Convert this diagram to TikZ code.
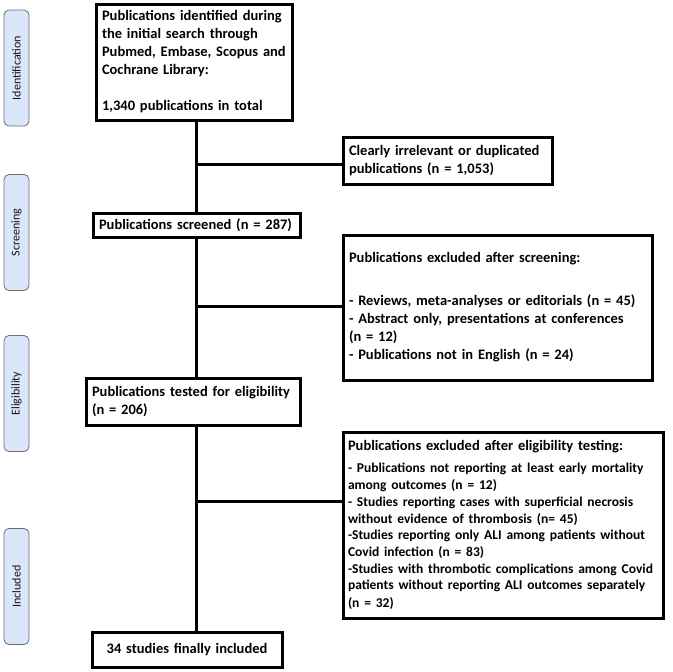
\documentclass[tikz,border=0pt]{standalone}
\usepackage{fontspec}
\setmainfont{Carlito}
\usetikzlibrary{positioning}
\definecolor{stagefill}{RGB}{218, 230, 250}
\definecolor{stageline}{RGB}{110, 110, 110}
\definecolor{stagetext}{RGB}{20, 20, 20}

\tikzset{
  flowbox/.style={draw, line width=3pt, outer sep=0pt, inner sep=6pt, anchor=north west,
    align=left, font=\bfseries\fontsize{14.5}{18}\selectfont},
  stagebox/.style={draw=stageline, fill=stagefill, rounded corners=5pt, line width=0.8pt,
    minimum width=116pt, minimum height=25pt, inner sep=0pt, rotate=90, text=stagetext,
    font=\fontsize{12}{14}\selectfont},
  flowline/.style={line width=3pt},
}

\begin{document}
\begin{tikzpicture}[x=1pt, y=-1pt]
  \useasboundingbox (0,0) rectangle (672,672);

  % --- Stages ---
  \node[stagebox] (identification) at (16.5, 68) {Identification};
  \node[stagebox] (screening) at (16.5, 232.5) {Screening};
  \node[stagebox] (eligibility) at (16.5, 393.5) {Eligibility};
  \node[stagebox] (included) at (16.5, 586.5) {Included};

  % --- Main column ---
  \node[flowbox, text width=184pt, minimum height=116pt] (search) at (96, 4)
    {Publications identified during\\the initial search through\\Pubmed, Embase, Scopus and\\Cochrane Library:\\[18pt]1,340 publications in total};
  \node[flowbox, text width=195pt, minimum height=24pt, inner ysep=3pt] (screened) at (93, 213)
    {Publications screened (n = 287)};
  \node[flowbox, text width=202pt, minimum height=47pt, inner ysep=4pt] (tested) at (86, 378)
    {Publications tested for eligibility\\(n = 206)};
  \node[flowbox, text width=178pt, minimum height=35pt, align=center] (final) at (92, 632)
    {34 studies finally included};

  % --- Exclusions ---
  \node[flowbox, text width=197pt, minimum height=47pt, inner ysep=4pt] (irrelevant) at (343, 137)
    {Clearly irrelevant or duplicated\\publications (n = 1,053)};
  \node[flowbox, text width=297pt, minimum height=145pt] (excscreen) at (343, 235)
    {Publications excluded after screening:\\[25pt]- Reviews, meta-analyses or editorials (n = 45)\\- Abstract only, presentations at conferences\\(n = 12)\\- Publications not in English (n = 24)};
  \node[flowbox, text width=310pt, minimum height=186pt, inner xsep=5pt, inner ysep=2pt] (exceligible) at (343, 432)
    {Publications excluded after eligibility testing:\\[6pt]\fontsize{13.5}{16.7}\selectfont
     - Publications not reporting at least early mortality\\among outcomes (n = 12)\\- Studies reporting cases with superficial necrosis\\without evidence of thrombosis (n= 45)\\-Studies reporting only ALI among patients without\\Covid infection (n = 83)\\-Studies with thrombotic complications among Covid\\patients without reporting ALI outcomes separately\\(n = 32)};

  % --- Connectors ---
  \coordinate (spine) at (196, 0);
  \coordinate (split1) at (196, 164);
  \coordinate (split2) at (196, 306);
  \coordinate (split3) at (196, 501);

  \draw[flowline] (search.south -| spine) -- (screened.north -| spine);
  \draw[flowline] (screened.south -| spine) -- (tested.north -| spine);
  \draw[flowline] (tested.south -| spine) -- (final.north -| spine);

  \draw[flowline] (split1) -- (split1 -| irrelevant.west);
  \draw[flowline] (split2) -- (split2 -| excscreen.west);
  \draw[flowline] (split3) -- (split3 -| exceligible.west);

\end{tikzpicture}
\end{document}
